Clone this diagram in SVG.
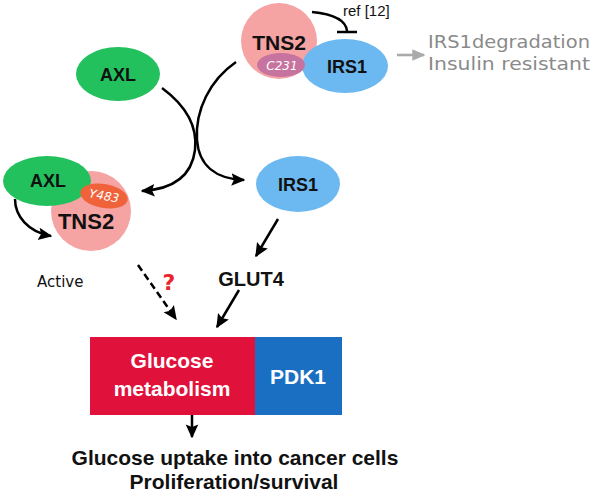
<svg xmlns="http://www.w3.org/2000/svg" width="596" height="495" viewBox="0 0 596 495">
<defs>
<style>
.lbl{font-family:"Liberation Sans",Arial,sans-serif;font-weight:bold;fill:#111;text-anchor:middle}
.wl{font-family:"Liberation Sans",Arial,sans-serif;font-weight:bold;fill:#fff;text-anchor:middle}
.com{font-family:"DejaVu Sans",sans-serif}
.ln{fill:none;stroke:#000;stroke-width:2.5}
.axl{fill:#22c15e}
.tns{fill:#f5a3a3}
.irs{fill:#6cb8f0}
</style>
<marker id="ah" viewBox="0 0 10 10" refX="9" refY="5" markerWidth="5.6" markerHeight="5.6" markerUnits="strokeWidth" orient="auto">
<path d="M0,0.5 L10,5 L0,9.5 L1.8,5 Z" fill="#000"/>
</marker>
<marker id="ahg" viewBox="0 0 10 10" refX="9" refY="5" markerWidth="5" markerHeight="5" markerUnits="strokeWidth" orient="auto">
<path d="M0,0.5 L10,5 L0,9.5 Z" fill="#aaa"/>
</marker>
</defs>
<rect width="596" height="495" fill="#fff"/>

<g id="connectors">
<path class="ln" d="M162,88 C185,105 198,125 195,150 C192,174 176,189 142,191" marker-end="url(#ah)"/>
<path class="ln" d="M236,62 C210,80 195,110 197,140 C199,166 216,179 244,180" marker-end="url(#ah)"/>
<path class="ln" d="M15,199 C15,216 28,232 51,236" marker-end="url(#ah)"/>
<path class="ln" d="M138,265 L176,319" stroke-dasharray="7,4" marker-end="url(#ah)"/>
<path class="ln" d="M278,219 L256,256" marker-end="url(#ah)"/>
<path class="ln" d="M239,290 L217,327" marker-end="url(#ah)"/>
<path class="ln" d="M192,415 L192,437" marker-end="url(#ah)"/>
<path class="ln" d="M312,12 C332,14 346,20 347,31"/>
<path class="ln" d="M337,32 L357,32"/>
<path d="M397,55 L424,55" fill="none" stroke="#aaa" stroke-width="2.6" marker-end="url(#ahg)"/>
</g>

<g id="complex-top">
<circle class="tns" cx="279" cy="41" r="38"/>
<text class="lbl" x="279" y="50" font-size="21">TNS2</text>
<ellipse class="irs" cx="345" cy="66" rx="43" ry="27"/>
<text class="lbl" x="347" y="73" font-size="18">IRS1</text>
<ellipse cx="281" cy="65" rx="24" ry="12" fill="#c7739f"/>
<text x="282" y="70" font-size="12" font-style="italic" fill="#fff" text-anchor="middle" font-family="DejaVu Sans,sans-serif">C231</text>
</g>

<g id="ref-label">
<text x="343" y="16" font-size="15" font-family="Liberation Sans,Arial,sans-serif" fill="#111">ref [12]</text>
</g>

<g id="outcome-top">
<text class="com" x="428" y="48" font-size="18" fill="#8a8a8a" textLength="162" lengthAdjust="spacingAndGlyphs">IRS1degradation</text>
<text class="com" x="428" y="70" font-size="18" fill="#8a8a8a" textLength="162" lengthAdjust="spacingAndGlyphs">Insulin resistant</text>
</g>

<g id="axl-top">
<ellipse class="axl" cx="118" cy="74" rx="42" ry="27"/>
<text class="lbl" x="118" y="81" font-size="18">AXL</text>
</g>

<g id="complex-left">
<circle class="tns" cx="91" cy="211" r="40"/>
<ellipse class="axl" cx="47" cy="181" rx="44" ry="25"/>
<text class="lbl" x="48" y="187" font-size="18">AXL</text>
<ellipse cx="104" cy="196" rx="24" ry="12" fill="#f0623a" transform="rotate(10 104 196)"/>
<text x="104" y="200" font-size="12" font-style="italic" fill="#fff" text-anchor="middle" font-family="DejaVu Sans,sans-serif" transform="rotate(10 104 196)">Y483</text>
<text class="lbl" x="86" y="229" font-size="22">TNS2</text>
</g>

<g id="active-label">
<text class="com" x="37" y="287" font-size="15" fill="#111">Active</text>
</g>

<g id="question">
<text x="169" y="290" font-size="22" font-weight="bold" fill="#e8262a" text-anchor="middle" font-family="DejaVu Sans,sans-serif">?</text>
</g>

<g id="irs1-mid">
<ellipse class="irs" cx="298" cy="184" rx="42" ry="28"/>
<text class="lbl" x="298" y="191" font-size="18">IRS1</text>
</g>

<g id="glut4">
<text class="lbl" x="251" y="286" font-size="20">GLUT4</text>
</g>

<g id="metabolism-box">
<rect x="90" y="337" width="165" height="78" fill="#e0123c"/>
<text class="wl" x="172" y="368" font-size="21">Glucose</text>
<text class="wl" x="172" y="396" font-size="21">metabolism</text>
</g>

<g id="pdk1-box">
<rect x="255" y="337" width="87" height="78" fill="#1b6fc2"/>
<text class="wl" x="298" y="384" font-size="21">PDK1</text>
</g>

<g id="outcome-bottom">
<text class="lbl" x="235" y="465" font-size="21">Glucose uptake into cancer cells</text>
<text class="lbl" x="234" y="489" font-size="21">Proliferation/survival</text>
</g>
</svg>
